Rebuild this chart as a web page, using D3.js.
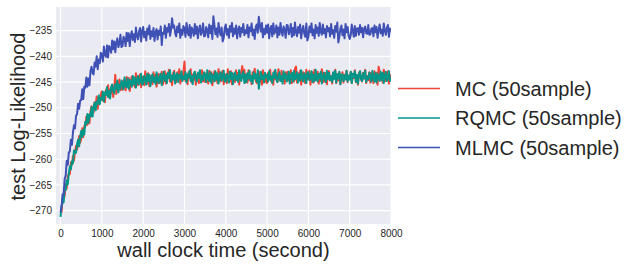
<!DOCTYPE html>
<html>
<head>
<meta charset="utf-8">
<script src="https://cdn.jsdelivr.net/npm/d3@7"></script>
<style>
  html, body { margin: 0; padding: 0; background: #fff; }
  text { font-family: "Liberation Sans", Arial, sans-serif; fill: #262626; }
</style>
</head>
<body>
<svg id="chart" width="637" height="267"></svg>
<script>
// sample times (seconds), one row = 500 s
const times = [
  0,25,50,75,100,125,150,175,200,225,250,275,300,325,350,375,400,425,450,475,
  500,525,550,575,600,625,650,675,700,725,750,775,800,825,850,875,900,925,950,975,
  1000,1025,1050,1075,1100,1125,1150,1175,1200,1225,1250,1275,1300,1325,1350,1375,1400,1425,1450,1475,
  1500,1525,1550,1575,1600,1625,1650,1675,1700,1725,1750,1775,1800,1825,1850,1875,1900,1925,1950,1975,
  2000,2025,2050,2075,2100,2125,2150,2175,2200,2225,2250,2275,2300,2325,2350,2375,2400,2425,2450,2475,
  2500,2525,2550,2575,2600,2625,2650,2675,2700,2725,2750,2775,2800,2825,2850,2875,2900,2925,2950,2975,
  3000,3025,3050,3075,3100,3125,3150,3175,3200,3225,3250,3275,3300,3325,3350,3375,3400,3425,3450,3475,
  3500,3525,3550,3575,3600,3625,3650,3675,3700,3725,3750,3775,3800,3825,3850,3875,3900,3925,3950,3975,
  4000,4025,4050,4075,4100,4125,4150,4175,4200,4225,4250,4275,4300,4325,4350,4375,4400,4425,4450,4475,
  4500,4525,4550,4575,4600,4625,4650,4675,4700,4725,4750,4775,4800,4825,4850,4875,4900,4925,4950,4975,
  5000,5025,5050,5075,5100,5125,5150,5175,5200,5225,5250,5275,5300,5325,5350,5375,5400,5425,5450,5475,
  5500,5525,5550,5575,5600,5625,5650,5675,5700,5725,5750,5775,5800,5825,5850,5875,5900,5925,5950,5975,
  6000,6025,6050,6075,6100,6125,6150,6175,6200,6225,6250,6275,6300,6325,6350,6375,6400,6425,6450,6475,
  6500,6525,6550,6575,6600,6625,6650,6675,6700,6725,6750,6775,6800,6825,6850,6875,6900,6925,6950,6975,
  7000,7025,7050,7075,7100,7125,7150,7175,7200,7225,7250,7275,7300,7325,7350,7375,7400,7425,7450,7475,
  7500,7525,7550,7575,7600,7625,7650,7675,7700,7725,7750,7775,7800,7825,7850,7875,7900,7925,7950,7975,
  8000
];

// MC (50sample)
const mcValues = [
  -270.2,-270.3,-267.5,-267.7,-267.1,-264.8,-265.7,-263.4,-262.9,-262.9,-260.6,-261.1,-259.4,-260.3,-258.6,-257.4,-258.1,-257.1,-255.5,-256.8,
  -256.0,-254.0,-255.7,-253.5,-253.6,-251.7,-253.3,-251.8,-253.0,-250.6,-249.7,-250.8,-250.9,-248.9,-249.7,-247.8,-250.2,-248.4,-249.1,-247.3,
  -246.8,-248.6,-247.4,-248.9,-246.5,-247.4,-245.6,-248.0,-246.4,-247.2,-245.5,-247.9,-246.1,-243.6,-247.3,-245.5,-246.2,-244.5,-246.6,-245.5,
  -246.5,-244.7,-245.2,-246.6,-244.0,-245.7,-244.2,-246.7,-244.7,-243.9,-245.6,-244.5,-246.0,-243.3,-244.9,-245.6,-244.1,-243.5,-246.0,-244.1,
  -244.0,-245.6,-242.9,-244.7,-245.3,-243.3,-245.8,-243.8,-244.3,-245.4,-243.1,-245.0,-243.6,-245.9,-244.2,-243.4,-245.2,-244.6,-243.0,-245.5,
  -244.5,-242.9,-245.3,-243.4,-244.1,-242.6,-244.9,-243.8,-245.6,-243.3,-242.8,-244.4,-245.0,-243.1,-244.2,-242.5,-245.3,-243.7,-244.7,-243.0,
  -241.0,-244.8,-243.7,-245.4,-243.1,-244.2,-242.5,-245.1,-243.6,-244.6,-243.0,-245.5,-243.8,-243.2,-245.2,-243.5,-244.3,-242.7,-244.9,-243.9,
  -245.0,-243.3,-243.8,-245.3,-242.8,-244.5,-243.1,-245.6,-243.7,-242.9,-244.7,-243.6,-245.2,-242.5,-244.1,-244.9,-243.4,-242.8,-245.4,-243.5,
  -243.6,-245.2,-242.5,-244.3,-244.9,-242.9,-245.4,-243.4,-243.9,-245.0,-242.7,-244.6,-243.2,-245.5,-243.8,-243.0,-241.9,-244.2,-242.6,-245.1,
  -243.5,-245.1,-242.7,-244.6,-243.9,-245.4,-243.1,-244.2,-242.4,-244.7,-245.2,-243.6,-243.0,-244.9,-243.8,-245.5,-242.7,-244.3,-243.3,-245.0,
  -245.2,-243.2,-244.3,-242.6,-244.9,-243.8,-245.5,-242.9,-244.4,-243.4,-245.0,-242.5,-244.2,-244.8,-242.8,-244.5,-243.7,-245.3,-243.1,-244.1,
  -243.0,-244.7,-244.2,-242.7,-245.2,-243.5,-244.9,-242.4,-242.0,-245.1,-243.3,-244.4,-242.8,-245.5,-243.9,-243.1,-244.6,-245.2,-242.6,-244.5,
  -244.4,-242.8,-245.5,-243.7,-243.1,-245.1,-242.6,-244.6,-244.1,-243.0,-245.3,-243.4,-244.8,-242.5,-244.2,-245.0,-243.2,-243.8,-245.4,-242.9,
  -242.9,-244.7,-243.8,-245.3,-243.2,-244.1,-242.6,-245.2,-243.5,-244.7,-243.1,-245.4,-243.9,-243.1,-245.1,-243.6,-244.2,-242.8,-245.0,-243.8,
  -244.4,-243.0,-245.2,-243.5,-244.2,-242.7,-245.0,-243.7,-245.5,-243.2,-242.9,-244.5,-244.9,-243.2,-244.3,-242.6,-245.2,-243.8,-244.6,-243.1,
  -245.1,-243.2,-243.9,-245.2,-242.9,-244.4,-243.2,-245.5,-242.0,-243.0,-244.6,-243.7,-245.1,-242.6,-244.0,-244.8,-243.5,-242.9,-245.3,-243.6,
  -244.2
];

// RQMC (50sample)
const rqmcValues = [
  -271.2,-269.0,-268.4,-268.4,-265.7,-266.0,-264.1,-264.9,-262.8,-261.4,-262.0,-260.4,-260.8,-258.3,-258.8,-258.7,-257.1,-256.2,-257.5,-255.6,
  -254.5,-255.7,-254.2,-255.2,-252.7,-253.2,-251.2,-252.9,-251.3,-251.7,-249.9,-251.7,-249.8,-249.0,-250.5,-248.8,-249.3,-247.6,-249.3,-248.1,
  -248.4,-246.9,-248.8,-247.0,-247.5,-246.0,-247.9,-246.7,-248.2,-246.0,-245.5,-246.7,-247.2,-245.4,-246.3,-244.7,-247.0,-245.5,-246.3,-244.7,
  -245.2,-246.4,-244.1,-245.6,-246.0,-244.3,-246.3,-244.6,-244.9,-245.9,-243.8,-245.4,-244.1,-246.1,-244.6,-243.8,-245.4,-244.9,-243.4,-245.5,
  -245.3,-243.8,-244.2,-245.5,-243.4,-244.8,-243.6,-245.8,-244.1,-243.5,-245.0,-244.1,-245.4,-243.1,-244.5,-245.2,-243.9,-243.4,-245.6,-244.0,
  -243.0,-244.7,-243.7,-245.2,-243.2,-244.2,-242.7,-244.9,-243.7,-244.5,-243.1,-245.3,-243.8,-243.3,-245.0,-243.6,-244.3,-242.9,-244.8,-243.9,
  -244.4,-243.1,-245.1,-243.5,-244.1,-242.8,-244.8,-243.8,-245.4,-243.4,-243.0,-244.3,-244.9,-243.2,-244.2,-242.7,-245.1,-243.7,-244.6,-243.1,
  -243.7,-245.0,-242.7,-244.3,-244.8,-243.1,-245.2,-243.5,-243.9,-244.9,-242.9,-244.5,-243.3,-245.3,-243.8,-243.1,-244.7,-244.2,-242.8,-244.9,
  -244.9,-243.4,-243.8,-245.1,-243.0,-244.4,-243.2,-245.4,-243.7,-243.1,-244.6,-243.7,-245.0,-242.7,-244.1,-244.8,-243.5,-243.0,-245.2,-243.6,
  -245.0,-243.3,-244.3,-242.8,-244.8,-243.8,-245.3,-243.1,-244.3,-243.5,-244.9,-242.7,-246.3,-244.7,-243.0,-244.4,-243.7,-245.1,-243.2,-244.1,
  -243.6,-244.9,-242.9,-244.5,-243.9,-245.2,-243.2,-244.2,-242.6,-244.6,-245.0,-243.7,-243.1,-244.8,-243.8,-245.3,-242.9,-244.3,-243.4,-244.9,
  -244.3,-243.0,-245.3,-243.7,-243.2,-244.9,-242.8,-244.5,-244.1,-243.1,-245.1,-243.5,-244.7,-242.7,-244.2,-244.9,-243.3,-243.8,-245.2,-243.1,
  -243.1,-244.6,-244.2,-242.9,-245.0,-243.6,-244.8,-242.6,-244.3,-244.9,-243.4,-244.3,-243.0,-245.3,-243.9,-243.2,-244.5,-245.0,-242.8,-244.4,
  -243.2,-244.6,-243.9,-245.0,-243.1,-244.4,-242.8,-245.1,-243.5,-244.3,-243.0,-245.4,-243.6,-243.5,-244.8,-243.7,-244.5,-242.8,-244.9,-243.7,
  -244.5,-243.0,-245.2,-243.4,-244.0,-242.9,-244.9,-243.6,-245.3,-243.5,-242.9,-244.4,-244.8,-243.3,-244.3,-242.8,-245.0,-243.9,-244.5,-243.2,
  -243.8,-244.9,-242.8,-244.2,-244.9,-243.2,-245.1,-243.4,-244.0,-244.8,-243.0,-244.6,-243.2,-245.2,-243.9,-243.0,-244.8,-244.1,-242.9,-244.8,
  -244.1
];

// MLMC (50sample)
const mlmcValues = [
  -270.3,-269.1,-266.8,-266.8,-263.8,-263.2,-260.3,-261.1,-258.7,-258.5,-256.2,-257.2,-254.8,-253.4,-254.0,-251.6,-251.2,-249.2,-250.2,-248.6,
  -248.5,-246.4,-248.3,-245.9,-246.1,-244.1,-245.9,-244.3,-245.6,-242.9,-242.0,-243.2,-243.5,-241.2,-242.0,-240.0,-242.5,-240.6,-241.3,-239.3,
  -239.6,-241.0,-238.1,-239.7,-240.1,-237.9,-240.2,-238.0,-238.4,-239.3,-236.9,-238.6,-237.1,-239.2,-237.4,-236.5,-238.2,-237.5,-235.8,-238.2,
  -238.0,-236.2,-236.6,-238.0,-235.4,-237.0,-235.5,-238.0,-236.0,-235.1,-236.8,-235.7,-237.2,-234.4,-236.0,-236.7,-235.2,-234.5,-237.1,-235.1,
  -234.3,-236.3,-235.2,-236.9,-234.6,-235.7,-234.0,-236.6,-235.1,-236.1,-234.5,-237.0,-235.3,-234.7,-236.7,-235.0,-235.8,-234.2,-237.8,-235.4,
  -235.6,-234.0,-236.4,-234.5,-235.2,-233.7,-236.0,-234.9,-232.6,-234.4,-234.0,-235.5,-236.1,-234.2,-235.3,-233.6,-236.4,-234.8,-235.8,-234.1,
  -234.6,-236.2,-233.5,-235.3,-235.9,-233.9,-236.4,-234.4,-234.9,-236.0,-233.7,-235.6,-234.2,-236.5,-234.8,-234.0,-235.8,-235.2,-233.6,-236.1,
  -236.0,-234.3,-234.8,-236.3,-233.8,-235.5,-234.1,-236.6,-232.2,-233.9,-235.7,-234.6,-236.2,-233.5,-235.1,-235.9,-234.4,-237.1,-236.4,-234.5,
  -233.8,-235.8,-234.7,-236.4,-234.1,-235.2,-233.5,-236.1,-234.6,-235.6,-234.0,-236.5,-234.8,-234.2,-236.2,-234.5,-235.3,-233.7,-235.9,-234.9,
  -235.5,-233.9,-236.3,-234.4,-235.1,-233.6,-235.9,-234.8,-236.6,-234.3,-233.8,-235.4,-232.3,-234.1,-235.2,-233.5,-236.3,-234.7,-235.7,-234.0,
  -235.4,-233.8,-236.5,-234.7,-234.1,-236.1,-233.6,-235.6,-235.1,-234.0,-236.3,-234.4,-235.8,-233.5,-235.2,-236.0,-234.2,-234.8,-236.4,-233.9,
  -234.0,-235.7,-235.2,-233.7,-236.2,-234.5,-235.9,-233.4,-235.3,-236.1,-234.3,-235.4,-233.8,-236.5,-234.9,-234.1,-235.6,-236.2,-233.6,-236.9,
  -236.2,-234.2,-235.3,-233.6,-235.9,-234.8,-236.5,-233.9,-235.4,-234.4,-236.0,-233.5,-235.2,-235.8,-233.8,-235.5,-234.7,-236.3,-234.1,-235.1,
  -234.5,-236.1,-233.7,-235.6,-234.9,-236.4,-234.1,-235.2,-233.4,-237.3,-236.2,-234.6,-234.0,-235.9,-234.8,-236.5,-233.7,-235.3,-234.3,-236.0,
  -236.6,-235.9,-233.8,-235.1,-236.2,-234.1,-236.0,-234.6,-234.5,-235.8,-233.9,-235.3,-234.5,-236.3,-234.6,-234.2,-235.5,-235.6,-233.9,-235.8,
  -235.7,-234.6,-234.5,-236.1,-234.0,-235.3,-234.3,-236.4,-234.9,-233.8,-235.5,-234.8,-236.0,-233.6,-235.0,-235.8,-234.5,-233.9,-236.2,-234.6,
  -235.2
];

const seriesNames = ["MC (50sample)", "RQMC (50sample)", "MLMC (50sample)"];
const seriesColors = ["#F44336", "#009688", "#3F51B5"];
const xTicks = [0, 1000, 2000, 3000, 4000, 5000, 6000, 7000, 8000];
const yTicks = [-270, -265, -260, -255, -250, -245, -240, -235];

const svg = d3.select("#chart");
const plot = { left: 56, right: 391, top: 7, bottom: 224 };

const x = d3.scaleLinear().domain([-110, 8000]).range([plot.left, plot.right]);
const y = d3.scaleLinear().domain([-272.6, -230.4]).range([plot.bottom, plot.top]);

// background
svg.append("rect")
  .attr("x", plot.left).attr("y", plot.top)
  .attr("width", plot.right - plot.left).attr("height", plot.bottom - plot.top)
  .attr("fill", "#EAEAF2");

// grid lines
svg.append("g").selectAll("line").data(xTicks).enter().append("line")
  .attr("x1", d => x(d)).attr("x2", d => x(d))
  .attr("y1", plot.top).attr("y2", plot.bottom)
  .attr("stroke", "#fff").attr("stroke-width", 1.1);
svg.append("g").selectAll("line").data(yTicks).enter().append("line")
  .attr("x1", plot.left).attr("x2", plot.right)
  .attr("y1", d => y(d)).attr("y2", d => y(d))
  .attr("stroke", "#fff").attr("stroke-width", 1.1);

// axes (labels only, no domain or tick marks)
const xAxis = svg.append("g")
  .attr("transform", "translate(0," + plot.bottom + ")")
  .call(d3.axisBottom(x).tickValues(xTicks).tickSize(0).tickPadding(6).tickFormat(d3.format("d")));
const yAxis = svg.append("g")
  .attr("transform", "translate(" + plot.left + ",0)")
  .call(d3.axisLeft(y).tickValues(yTicks).tickSize(0).tickPadding(4).tickFormat(d => "\u2212" + Math.abs(d)));
[xAxis, yAxis].forEach(a => {
  a.select(".domain").remove();
  a.selectAll("text").attr("font-size", 10).attr("fill", "#262626")
    .attr("font-family", "Liberation Sans, Arial, sans-serif");
});

// lines
svg.append("clipPath").attr("id", "clip").append("rect")
  .attr("x", plot.left).attr("y", plot.top)
  .attr("width", plot.right - plot.left).attr("height", plot.bottom - plot.top);

const line = d3.line().x((d, i) => x(times[i])).y(d => y(d));
const allValues = [mcValues, rqmcValues, mlmcValues];

svg.append("g").attr("clip-path", "url(#clip)")
  .selectAll("path").data(allValues).enter().append("path")
  .attr("d", d => line(d))
  .attr("fill", "none")
  .attr("stroke", (d, i) => seriesColors[i])
  .attr("stroke-width", 2)
  .attr("stroke-linejoin", "round");

// axis titles
svg.append("text")
  .attr("x", (plot.left + plot.right) / 2).attr("y", 256.5)
  .attr("text-anchor", "middle").attr("font-size", 20)
  .text("wall clock time (second)");
svg.append("text")
  .attr("transform", "translate(24.5," + 116.5 + ") rotate(-90)")
  .attr("text-anchor", "middle").attr("font-size", 20)
  .text("test Log-Likelihood");

// legend
const legend = svg.append("g").selectAll("g").data(seriesNames).enter().append("g")
  .attr("transform", (d, i) => "translate(398," + (88.5 + i * 29.5) + ")");
legend.append("line")
  .attr("x1", 0).attr("x2", 42).attr("y1", 0).attr("y2", 0)
  .attr("stroke", (d, i) => seriesColors[i]).attr("stroke-width", 1.5);
legend.append("text")
  .attr("x", 57).attr("y", 7.3).attr("font-size", 20)
  .text(d => d);
</script>
</body>
</html>
